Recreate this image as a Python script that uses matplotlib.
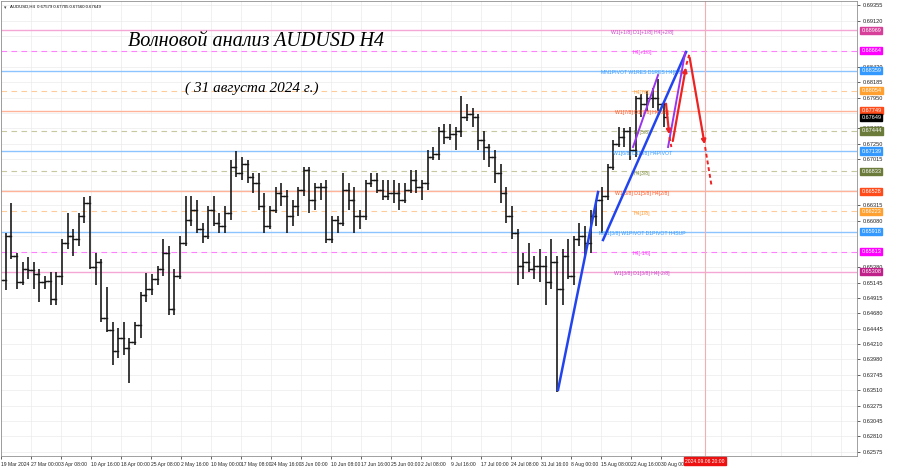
import matplotlib
matplotlib.use("Agg")
import matplotlib.pyplot as plt
import matplotlib.transforms as mtransforms

# ---------------- data ----------------
days = ["19 Mar", "20 Mar", "21 Mar", "22 Mar", "25 Mar", "26 Mar", "27 Mar", "28 Mar", "29 Mar",
        "1 Apr", "2 Apr", "3 Apr", "4 Apr", "5 Apr", "8 Apr", "9 Apr", "10 Apr", "11 Apr", "12 Apr",
        "15 Apr", "16 Apr", "17 Apr", "18 Apr", "19 Apr", "22 Apr", "23 Apr", "24 Apr", "25 Apr", "26 Apr",
        "29 Apr", "30 Apr", "1 May", "2 May", "3 May", "6 May", "7 May", "8 May", "9 May", "10 May",
        "13 May", "14 May", "15 May", "16 May", "17 May", "20 May", "21 May", "22 May", "23 May", "24 May",
        "27 May", "28 May", "29 May", "30 May", "31 May", "3 Jun", "4 Jun", "5 Jun", "6 Jun", "7 Jun",
        "10 Jun", "11 Jun", "12 Jun", "13 Jun", "14 Jun", "17 Jun", "18 Jun", "19 Jun", "20 Jun", "21 Jun",
        "24 Jun", "25 Jun", "26 Jun", "27 Jun", "28 Jun", "1 Jul", "2 Jul", "3 Jul", "4 Jul", "5 Jul",
        "8 Jul", "9 Jul", "10 Jul", "11 Jul", "12 Jul", "15 Jul", "16 Jul", "17 Jul", "18 Jul", "19 Jul",
        "22 Jul", "23 Jul", "24 Jul", "25 Jul", "26 Jul", "29 Jul", "30 Jul", "31 Jul", "1 Aug", "2 Aug",
        "5 Aug", "6 Aug", "7 Aug", "8 Aug", "9 Aug", "12 Aug", "13 Aug", "14 Aug", "15 Aug", "16 Aug",
        "19 Aug", "20 Aug", "21 Aug", "22 Aug", "23 Aug", "26 Aug", "27 Aug", "28 Aug", "29 Aug", "30 Aug"]

highs = [0.6540, 0.6590, 0.6635, 0.6560, 0.6545, 0.6553, 0.6545, 0.6535, 0.6525,
         0.6530, 0.6530, 0.6580, 0.6620, 0.6595, 0.6620, 0.6644, 0.6645, 0.6560, 0.6550,
         0.6508, 0.6455, 0.6445, 0.6455, 0.6430, 0.6455, 0.6500, 0.6529, 0.6528, 0.6540,
         0.6580, 0.6570, 0.6535, 0.6585, 0.6646, 0.6645, 0.6640, 0.6605, 0.6630, 0.6645,
         0.6620, 0.6630, 0.6700, 0.6714, 0.6705, 0.6700, 0.6680, 0.6680, 0.6650, 0.6630,
         0.6660, 0.6665, 0.6655, 0.6640, 0.6660, 0.6690, 0.6690, 0.6665, 0.6665, 0.6670,
         0.6615, 0.6615, 0.6680, 0.6665, 0.6660, 0.6625, 0.6670, 0.6680, 0.6680, 0.6670,
         0.6670, 0.6670, 0.6665, 0.6665, 0.6685, 0.6685, 0.6670, 0.6715, 0.6720, 0.6750,
         0.6755, 0.6755, 0.6750, 0.6798, 0.6785, 0.6780, 0.6770, 0.6745, 0.6725, 0.6715,
         0.6695, 0.6660, 0.6630, 0.6595, 0.6560, 0.6575, 0.6555, 0.6565, 0.6555, 0.6580,
         0.6555, 0.6565, 0.6580, 0.6585, 0.6605, 0.6600, 0.6625, 0.6640, 0.6660, 0.6695,
         0.6730, 0.6750, 0.6749, 0.6750, 0.6798, 0.6800, 0.6805, 0.6810, 0.6824, 0.6790]

lows = [0.6515, 0.6503, 0.6550, 0.6505, 0.6510, 0.6520, 0.6505, 0.6485, 0.6505,
        0.6480, 0.6480, 0.6510, 0.6565, 0.6555, 0.6570, 0.6605, 0.6535, 0.6510, 0.6455,
        0.6440, 0.6390, 0.6400, 0.6405, 0.6362, 0.6420, 0.6430, 0.6485, 0.6495, 0.6510,
        0.6525, 0.6465, 0.6465, 0.6520, 0.6570, 0.6600, 0.6590, 0.6575, 0.6580, 0.6600,
        0.6590, 0.6590, 0.6610, 0.6675, 0.6670, 0.6665, 0.6650, 0.6625, 0.6590, 0.6595,
        0.6620, 0.6630, 0.6590, 0.6600, 0.6615, 0.6645, 0.6620, 0.6625, 0.6640, 0.6575,
        0.6575, 0.6590, 0.6600, 0.6625, 0.6590, 0.6595, 0.6610, 0.6660, 0.6650, 0.6640,
        0.6640, 0.6635, 0.6625, 0.6635, 0.6650, 0.6650, 0.6640, 0.6655, 0.6700, 0.6700,
        0.6725, 0.6730, 0.6715, 0.6735, 0.6760, 0.6750, 0.6715, 0.6700, 0.6690, 0.6665,
        0.6635, 0.6605, 0.6580, 0.6510, 0.6520, 0.6530, 0.6520, 0.6515, 0.6480, 0.6505,
        0.6348, 0.6480, 0.6520, 0.6510, 0.6570, 0.6555, 0.6560, 0.6600, 0.6590, 0.6640,
        0.6685, 0.6720, 0.6720, 0.6700, 0.6705, 0.6765, 0.6775, 0.6780, 0.6775, 0.6750]

closes = [0.6518, 0.6585, 0.6555, 0.6515, 0.6535, 0.6533, 0.6528, 0.6515, 0.6517,
          0.6490, 0.6525, 0.6575, 0.6585, 0.6580, 0.6615, 0.6635, 0.6538, 0.6545, 0.6460,
          0.6443, 0.6410, 0.6430, 0.6415, 0.6425, 0.6450, 0.6495, 0.6505, 0.6520, 0.6535,
          0.6560, 0.6475, 0.6525, 0.6575, 0.6610, 0.6625, 0.6595, 0.6585, 0.6625, 0.6605,
          0.6600, 0.6620, 0.6690, 0.6680, 0.6695, 0.6675, 0.6665, 0.6630, 0.6600, 0.6625,
          0.6650, 0.6645, 0.6615, 0.6630, 0.6655, 0.6685, 0.6640, 0.6660, 0.6660, 0.6580,
          0.6610, 0.6605, 0.6655, 0.6640, 0.6615, 0.6615, 0.6665, 0.6670, 0.6655, 0.6645,
          0.6650, 0.6650, 0.6640, 0.6655, 0.6670, 0.6660, 0.6665, 0.6705, 0.6710, 0.6745,
          0.6735, 0.6740, 0.6745, 0.6765, 0.6770, 0.6765, 0.6730, 0.6720, 0.6705, 0.6680,
          0.6650, 0.6615, 0.6590, 0.6540, 0.6545, 0.6535, 0.6540, 0.6540, 0.6515, 0.6545,
          0.6505, 0.6555, 0.6525, 0.6580, 0.6585, 0.6575, 0.6615, 0.6640, 0.6645, 0.6690,
          0.6725, 0.6735, 0.6745, 0.6715, 0.6795, 0.6785, 0.6795, 0.6795, 0.6785, 0.67649]

opens = [0.6530] + closes[:-1]

# Murrey / pivot levels
level_prices = [0.68969, 0.68664, 0.68359, 0.68054, 0.67749, 0.67444, 0.67139,
                0.66833, 0.66528, 0.66223, 0.65918, 0.65613, 0.65308]
level_names = ["W1[+1/8] D1[+1/8] H4[+2/8]", "H4[+1/8]", "MN1PIVOT W1RES D1RES H4[8/8]",
               "H4[7/8]", "W1[7/8] D1[7/8] H4[6/8]", "H4[5/8]", "W1[6/8] D1[6/8] H4PIVOT",
               "H4[3/8]", "W1[5/8] D1[5/8] H4[2/8]", "H4[1/8]", "MN1[3/8] W1PIVOT D1PIVOT H4SUP",
               "H4[-1/8]", "W1[3/8] D1[3/8] H4[-2/8]"]
level_box_colors = ["#d63f9a", "#ff00ff", "#3399ff", "#ffa030", "#ff4a1a", "#6b7b3a", "#3399ff",
                    "#6b7b3a", "#ff4a1a", "#ffa030", "#3399ff", "#ff00ff", "#c0208a"]
level_line_colors = ["#f4a6d4", "#ff80ff", "#8cc4ff", "#ffcc99", "#ffb399", "#c8c8a0", "#8cc4ff",
                     "#c8c8a0", "#ffb399", "#ffcc99", "#8cc4ff", "#ff80ff", "#f4a6d4"]
level_text_colors = ["#cc44cc", "#ff33ff", "#3399ff", "#ff9933", "#ff5522", "#7a8a3a", "#3399ff",
                     "#7a8a3a", "#ff5522", "#ff9933", "#3399ff", "#ff33ff", "#cc44cc"]
level_dashed = [False, True, False, True, False, True, False, True, False, True, False, True, False]

price_ticks = [0.69355, 0.69120, 0.68420, 0.68185, 0.67950, 0.67485, 0.67250, 0.67015,
               0.66315, 0.66080, 0.65380, 0.65145, 0.64915, 0.64680, 0.64445, 0.64210,
               0.63980, 0.63745, 0.63510, 0.63275, 0.63045, 0.62810, 0.62575]
grid_prices = [0.69355, 0.69120, 0.68885, 0.68650, 0.68420, 0.68185, 0.67950, 0.67715,
               0.67485, 0.67250, 0.67015, 0.66780, 0.66545, 0.66315, 0.66080, 0.65845,
               0.65610, 0.65380, 0.65145, 0.64915, 0.64680, 0.64445, 0.64210, 0.63980,
               0.63745, 0.63510, 0.63275, 0.63045, 0.62810, 0.62575]

time_labels = ["19 Mar 2024", "27 Mar 00:00", "3 Apr 08:00", "10 Apr 16:00", "18 Apr 00:00",
               "25 Apr 08:00", "2 May 16:00", "10 May 00:00", "17 May 08:00", "24 May 16:00",
               "3 Jun 00:00", "10 Jun 08:00", "17 Jun 16:00", "25 Jun 00:00", "2 Jul 08:00",
               "9 Jul 16:00", "17 Jul 00:00", "24 Jul 08:00", "31 Jul 16:00", "8 Aug 00:00",
               "15 Aug 08:00", "22 Aug 16:00", "30 Aug 00:00"]
bars_per_label = 32

# wave-count drawings (x in H4 bar index, y in price)
blue_lines = [([594.1, 636.8], [0.63515, 0.66518]),
              ([642.1, 730.7], [0.65790, 0.68642])]
purple_lines = [([674.1, 700.8], [0.67201, 0.68293]),
                ([711.5, 729.6], [0.67201, 0.68627])]
red_solid = [([709.0, 713.0], [0.67900, 0.67350]),
             ([716.0, 731.0], [0.67250, 0.68450]),
             ([734.0, 751.0], [0.68600, 0.67200])]
red_dashed = [([713.0, 715.0], [0.67350, 0.67200]),
              ([731.0, 734.0], [0.68450, 0.68600]),
              ([751.0, 758.0], [0.67200, 0.66600])]
future_bar = 751
future_label = "2024.09.06 20:00"
current_price = 0.67649

# ---------------- figure ----------------
W, H = 900, 468
fig = plt.figure(figsize=(W / 100, H / 100), dpi=100)
ax = fig.add_axes([1 / W, 12 / H, 856 / W, 455 / H])
ax.set_xlim(0, 913)
ax.set_ylim(0.62513, 0.69416)

# grid
for i in range(len(time_labels) + 6):
    ax.axvline(i * bars_per_label, color="#ebebeb", lw=0.5, zorder=0)
for p in grid_prices:
    ax.axhline(p, color="#ebebeb", lw=0.5, zorder=0)

# levels
for p, c, d in zip(level_prices, level_line_colors, level_dashed):
    ax.axhline(p, color=c, lw=0.8 if d else 1.0, ls=(0, (5, 4)) if d else "-", zorder=1)
for p, n, c in zip(level_prices, level_names, level_text_colors):
    ax.text(684, p - 0.0003, n, color=c, fontsize=3.7, ha="center", va="center",
            family="Liberation Sans", zorder=3)

# OHLC bars (daily groups drawn on the H4 bar axis)
for i, (o, h, l, c) in enumerate(zip(opens, highs, lows, closes)):
    xc = 6 * i - 1.0
    ax.plot([xc, xc], [l, h], color="#1a1a1a", lw=1.2, solid_capstyle="butt", zorder=2)
    ax.plot([xc - 3.0, xc], [o, o], color="#1a1a1a", lw=1.0, zorder=2)
    ax.plot([xc, xc + 3.0], [c, c], color="#1a1a1a", lw=1.0, zorder=2)

# drawings
for xs, ys in blue_lines:
    ax.plot(xs, ys, color="#2244ee", lw=1.8, zorder=4)
for xs, ys in purple_lines:
    ax.plot(xs, ys, color="#9933ee", lw=1.4, zorder=4)
for xs, ys in red_solid:
    ax.annotate("", xy=(xs[1], ys[1]), xytext=(xs[0], ys[0]),
                arrowprops=dict(arrowstyle="-|>", color="#ee2222", lw=1.6,
                                mutation_scale=6), zorder=5)
for xs, ys in red_dashed:
    ax.plot(xs, ys, color="#ee2222", lw=1.4, ls=(0, (2, 1.5)), zorder=5)

# future vertical line
ax.axvline(future_bar, color="#f0b0b0", lw=0.8, zorder=1)

# texts
ax.text(135.5, 0.68794, "Волновой анализ AUDUSD H4", family="Liberation Serif",
        style="italic", fontsize=14.5, ha="left", va="center", color="black")
ax.text(196, 0.68097, "( 31 августа 2024 г.)", family="Liberation Serif",
        style="italic", fontsize=11, ha="left", va="center", color="black")
ax.text(0.010, 0.992, "AUDUSD,H4  0.67579 0.67705 0.67560 0.67649", transform=ax.transAxes,
        fontsize=3.1, ha="left", va="top", family="Liberation Sans")
ax.text(0.003, 0.992, "▾", transform=ax.transAxes, fontsize=3.5, ha="left", va="top",
        color="#444444")

# axes styling
for s in ["top", "left", "right", "bottom"]:
    ax.spines[s].set_color("#909090")
    ax.spines[s].set_linewidth(0.6)
ax.yaxis.tick_right()
ax.set_yticks(price_ticks)
ax.set_yticklabels([f"{p:.5f}" for p in price_ticks], fontsize=4.1, family="Liberation Sans")
ax.tick_params(axis="y", length=2, width=0.5, pad=2, colors="#222222")
ax.set_xticks([i * bars_per_label for i in range(len(time_labels))])
ax.set_xticklabels(time_labels, fontsize=3.6, family="Liberation Sans", ha="left")
ax.tick_params(axis="x", length=2, width=0.5, pad=2.5, colors="#222222")

# price labels on right axis
trans = mtransforms.blended_transform_factory(ax.transAxes, ax.transData)
for p, c in zip(level_prices, level_box_colors):
    ax.text(1.005, p, f"{p:.5f}", transform=trans, fontsize=4.0, color="white",
            ha="left", va="center", family="Liberation Sans",
            bbox=dict(boxstyle="square,pad=0.2", fc=c, ec=c))
ax.text(1.005, current_price, f"{current_price:.5f}", transform=trans, fontsize=4.0,
        color="white", ha="left", va="center", family="Liberation Sans",
        bbox=dict(boxstyle="square,pad=0.2", fc="black", ec="black"))

transx = mtransforms.blended_transform_factory(ax.transData, ax.transAxes)
ax.text(future_bar, -0.006, future_label, transform=transx, fontsize=3.6, color="white",
        ha="center", va="top", family="Liberation Sans",
        bbox=dict(boxstyle="square,pad=0.25", fc="#ee1111", ec="#ee1111"))

fig.savefig("out.png", dpi=100, facecolor="white")
